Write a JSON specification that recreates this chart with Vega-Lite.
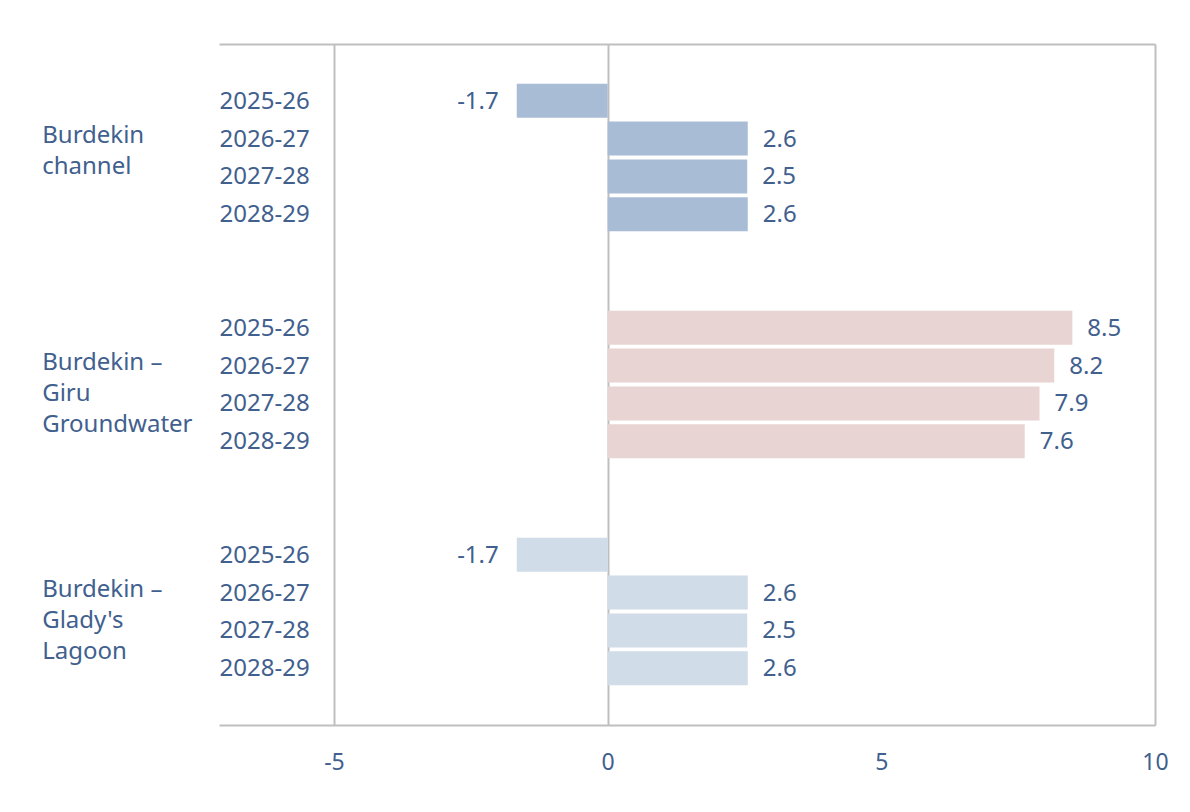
{
  "$schema": "https://vega.github.io/schema/vega-lite/v6.json",
  "width": 936,
  "height": 681,
  "autosize": {"type": "none"},
  "padding": {"left": 219, "top": 44, "right": 35, "bottom": 87},
  "background": "white",
  "config": {
    "view": {"stroke": null},
    "font": "Noto Sans",
    "text": {"font": "Noto Sans", "fontSize": 24, "color": "#41608E"},
    "axis": {"labelFont": "Noto Sans"}
  },
  "datasets": {
    "bars": [
      {"group": "Burdekin channel", "year": "2025-26", "slot": "1|2025-26", "value": -1.66, "label": "-1.7"},
      {"group": "Burdekin channel", "year": "2026-27", "slot": "1|2026-27", "value": 2.56, "label": "2.6"},
      {"group": "Burdekin channel", "year": "2027-28", "slot": "1|2027-28", "value": 2.55, "label": "2.5"},
      {"group": "Burdekin channel", "year": "2028-29", "slot": "1|2028-29", "value": 2.56, "label": "2.6"},
      {"group": "Burdekin – Giru Groundwater", "year": "2025-26", "slot": "2|2025-26", "value": 8.49, "label": "8.5"},
      {"group": "Burdekin – Giru Groundwater", "year": "2026-27", "slot": "2|2026-27", "value": 8.16, "label": "8.2"},
      {"group": "Burdekin – Giru Groundwater", "year": "2027-28", "slot": "2|2027-28", "value": 7.89, "label": "7.9"},
      {"group": "Burdekin – Giru Groundwater", "year": "2028-29", "slot": "2|2028-29", "value": 7.62, "label": "7.6"},
      {"group": "Burdekin – Glady's Lagoon", "year": "2025-26", "slot": "3|2025-26", "value": -1.66, "label": "-1.7"},
      {"group": "Burdekin – Glady's Lagoon", "year": "2026-27", "slot": "3|2026-27", "value": 2.56, "label": "2.6"},
      {"group": "Burdekin – Glady's Lagoon", "year": "2027-28", "slot": "3|2027-28", "value": 2.55, "label": "2.5"},
      {"group": "Burdekin – Glady's Lagoon", "year": "2028-29", "slot": "3|2028-29", "value": 2.56, "label": "2.6"}
    ],
    "groups": [
      {"group": "Burdekin channel", "slot": "1|2026-27", "text": "Burdekin\nchannel"},
      {"group": "Burdekin – Giru Groundwater", "slot": "2|2026-27", "text": "Burdekin –\nGiru\nGroundwater"},
      {"group": "Burdekin – Glady's Lagoon", "slot": "3|2026-27", "text": "Burdekin –\nGlady's\nLagoon"}
    ]
  },
  "encoding": {
    "y": {
      "field": "slot",
      "type": "nominal",
      "sort": null,
      "scale": {
        "domain": ["_a", "1|2025-26", "1|2026-27", "1|2027-28", "1|2028-29", "_b", "_c", "2|2025-26", "2|2026-27", "2|2027-28", "2|2028-29", "_d", "_e", "3|2025-26", "3|2026-27", "3|2027-28", "3|2028-29", "_f"],
        "paddingInner": 0.1,
        "paddingOuter": 0.05
      },
      "axis": null
    }
  },
  "layer": [
    {
      "data": {"name": "bars"},
      "mark": {"type": "bar"},
      "encoding": {
        "x": {
          "field": "value",
          "type": "quantitative",
          "scale": {"domain": [-7.1, 10], "nice": false},
          "axis": {
            "orient": "bottom",
            "values": [-5, 0, 5, 10],
            "labelExpr": "'' + datum.value",
            "grid": true,
            "gridColor": "#BFBFBF",
            "gridWidth": 2,
            "gridOpacity": {"condition": {"test": "datum.value <= 0 || datum.value == 10", "value": 1}, "value": 0},
            "domainColor": "#BFBFBF",
            "domainWidth": 2,
            "ticks": false,
            "tickSize": 0,
            "labelPadding": 44,
            "labelBaseline": "alphabetic",
            "labelFontSize": 23,
            "labelColor": "#41608E",
            "labelFlush": false,
            "title": null
          }
        },
        "x2": {"datum": 0},
        "color": {
          "field": "group",
          "type": "nominal",
          "scale": {
            "domain": ["Burdekin channel", "Burdekin – Giru Groundwater", "Burdekin – Glady's Lagoon"],
            "range": ["#A9BCD5", "#E8D4D2", "#D0DCE8"]
          },
          "legend": null
        }
      }
    },
    {
      "data": {"name": "bars"},
      "transform": [{"filter": "datum.value >= 0"}],
      "mark": {"type": "text", "align": "left", "baseline": "alphabetic", "dx": 15, "dy": 8},
      "encoding": {
        "x": {
          "field": "value",
          "type": "quantitative",
          "scale": {"domain": [-7.1, 10], "nice": false},
          "axis": {
            "orient": "top",
            "labels": false,
            "ticks": false,
            "grid": false,
            "domain": true,
            "domainColor": "#BFBFBF",
            "domainWidth": 2,
            "title": null
          }
        },
        "text": {"field": "label", "type": "nominal"}
      }
    },
    {
      "data": {"name": "bars"},
      "transform": [{"filter": "datum.value < 0"}],
      "mark": {"type": "text", "align": "right", "baseline": "alphabetic", "dx": -18, "dy": 8},
      "encoding": {
        "x": {"field": "value", "type": "quantitative", "scale": {"domain": [-7.1, 10], "nice": false}, "axis": null},
        "text": {"field": "label", "type": "nominal"}
      }
    },
    {
      "data": {"name": "bars"},
      "mark": {"type": "text", "align": "left", "baseline": "alphabetic", "dy": 8},
      "encoding": {
        "x": {"datum": -7.09, "type": "quantitative", "scale": {"domain": [-7.1, 10], "nice": false}, "axis": null},
        "text": {"field": "year", "type": "nominal"}
      }
    },
    {
      "data": {"name": "groups"},
      "mark": {"type": "text", "align": "left", "baseline": "alphabetic", "dy": 4, "lineBreak": "\n", "lineHeight": 31},
      "encoding": {
        "x": {"datum": -10.33, "type": "quantitative", "scale": {"domain": [-7.1, 10], "nice": false}, "axis": null},
        "text": {"field": "text", "type": "nominal"}
      }
    }
  ],
  "resolve": {"axis": {"x": "independent"}}
}
